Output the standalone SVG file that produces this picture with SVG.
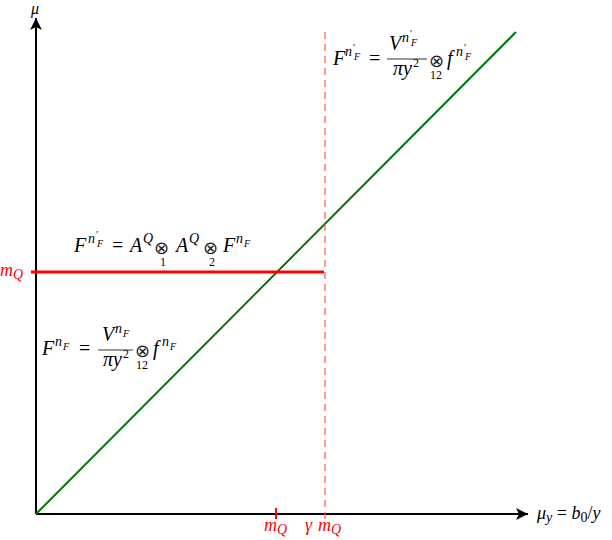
<svg xmlns="http://www.w3.org/2000/svg" width="612" height="540" viewBox="0 0 612 540">
<style>
text{font-family:"Liberation Serif","DejaVu Serif",serif;font-size:20px;fill:#000}
.i{font-style:italic}
.n{font-style:normal}
.s{font-size:14px}
.ss{font-size:10px}
.op{font-family:"DejaVu Sans",sans-serif;font-size:18px;fill:#222}
.sn{font-size:12px;font-style:normal}
.r{fill:#f00}
.ax{font-size:18px}
</style>
<defs>
<marker id="ah" markerWidth="14" markerHeight="12" refX="12" refY="6" orient="auto" markerUnits="userSpaceOnUse">
<path d="M0,0 L12,6 L0,12 L3,6 Z" fill="#000"/>
</marker>
</defs>
<g id="connectors">
<line x1="36" y1="514" x2="36" y2="18" stroke="#000" stroke-width="2" marker-end="url(#ah)"/>
<line x1="36" y1="514" x2="528" y2="514" stroke="#000" stroke-width="2" marker-end="url(#ah)"/>
<line x1="36" y1="514" x2="516" y2="32" stroke="#007700" stroke-width="2"/>
<line x1="31" y1="272" x2="324" y2="272" stroke="#f00" stroke-width="3"/>
<line x1="325" y1="32" x2="325" y2="519" stroke="#f55" stroke-width="1.2" stroke-dasharray="7,5"/>
<line x1="276" y1="508" x2="276" y2="519" stroke="#f00" stroke-width="2"/>
</g>
<g id="labels">
<text class="i" x="31" y="14" style="font-size:16px">μ</text>
<text class="i r ax" x="0" y="276">m<tspan class="s" dy="3">Q</tspan></text>
<text class="i ax" x="537" y="519">μ<tspan class="s" dy="3">y</tspan><tspan dy="-3" class="n"> = </tspan>b<tspan class="s n" dy="3">0</tspan><tspan dy="-3" class="n">/</tspan>y</text>
<text class="i r ax" x="264" y="531">m<tspan class="s" dy="3">Q</tspan></text>
<text class="i r ax" x="305" y="531">γ<tspan x="318">m</tspan><tspan class="s" dy="3">Q</tspan></text>
</g>
<g id="formula-top">
<text class="i" x="333" y="65">F</text>
<text class="i s" x="345" y="56">n</text><text class="ss n" x="353" y="51">′</text><text class="i ss" x="354" y="60">F</text>
<text x="369" y="65">=</text>
<text class="i" x="389" y="50">V</text>
<text class="i s" x="402" y="42">n</text><text class="ss n" x="410" y="37">′</text><text class="i ss" x="411" y="46">F</text>
<line x1="387" y1="59" x2="427" y2="59" stroke="#000" stroke-width="0.8"/>
<text class="i" x="393" y="75">πy</text><text class="sn" x="413" y="67">2</text>
<text class="op" x="429" y="67">⊗</text>
<text class="sn" x="430" y="79">12</text>
<text class="i" x="447" y="65">f</text>
<text class="i s" x="456" y="56">n</text><text class="ss n" x="464" y="51">′</text><text class="i ss" x="465" y="60">F</text>
</g>
<g id="formula-mid">
<text class="i" x="74" y="252">F</text>
<text class="i s" x="88" y="243">n</text><text class="ss n" x="96" y="238">′</text><text class="i ss" x="97" y="247">F</text>
<text x="112" y="252">=</text>
<text class="i" x="130" y="252">A</text><text class="i s" x="143" y="243">Q</text>
<text class="op" x="154" y="254">⊗</text>
<text class="sn" x="160" y="266">1</text>
<text class="i" x="176" y="252">A</text><text class="i s" x="189" y="243">Q</text>
<text class="op" x="203" y="254">⊗</text>
<text class="sn" x="209" y="266">2</text>
<text class="i" x="223" y="252">F</text>
<text class="i s" x="236" y="243">n</text><text class="i ss" x="244" y="247">F</text>
</g>
<g id="formula-low">
<text class="i" x="42" y="355">F</text>
<text class="i s" x="55" y="346">n</text><text class="i ss" x="63" y="350">F</text>
<text x="79" y="355">=</text>
<text class="i" x="102" y="341">V</text>
<text class="i s" x="115" y="333">n</text><text class="i ss" x="123" y="337">F</text>
<line x1="98" y1="350" x2="133" y2="350" stroke="#000" stroke-width="0.8"/>
<text class="i" x="103" y="366">πy</text><text class="sn" x="123" y="358">2</text>
<text class="op" x="135" y="357">⊗</text>
<text class="sn" x="136" y="369">12</text>
<text class="i" x="153" y="355">f</text>
<text class="i s" x="162" y="346">n</text><text class="i ss" x="170" y="350">F</text>
</g>
</svg>
